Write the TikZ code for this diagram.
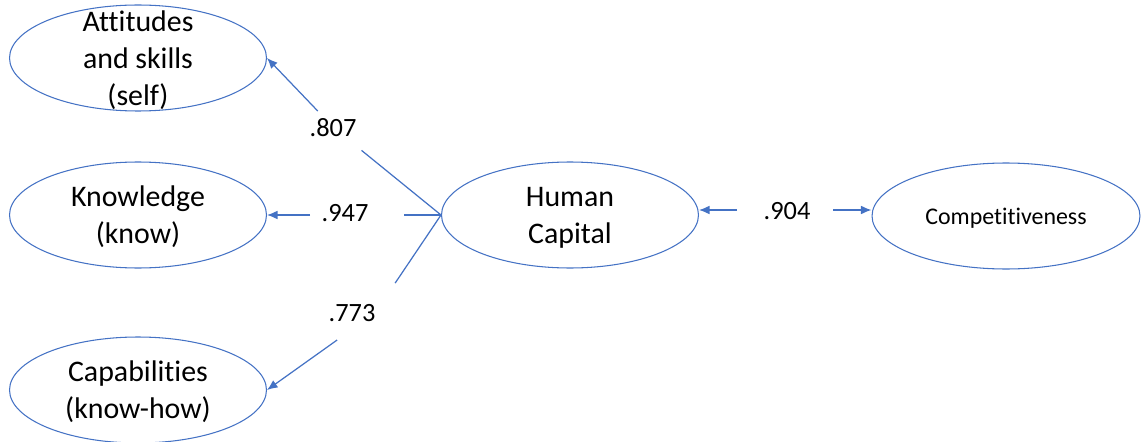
\documentclass[tikz,border=0pt]{standalone}
\usepackage{fontspec}
\setmainfont{Carlito}[Ligatures=CommonOff]
\usepackage{tikz}
\usetikzlibrary{arrows.meta,shapes.geometric}
\definecolor{ablue}{RGB}{68,114,196}

\begin{document}
\begin{tikzpicture}[x=0.02cm,y=-0.02cm,>={Latex[length=6pt,width=5pt]},
	latent/.style = {draw=ablue,ellipse,line width=0.6pt,inner sep=0pt,text depth=0pt,align=center,minimum width=5.14cm,minimum height=2.12cm,font=\fontsize{17}{21}\selectfont},
	coef/.style = {inner sep=0pt,font=\fontsize{15}{18}\selectfont},
	path/.style = {draw=ablue,line width=0.7pt}
	]
	\useasboundingbox (0,0) rectangle (1141,442);
	%VARIABILI
	\node[latent,inner ysep=-10pt] (@att) at (138,58) {Attitudes\\and skills\\(self)};
	\node[latent] (@know) at (138,215) {Knowledge\\(know)};
	\node[latent] (@cap) at (138,390) {Capabilities\\(know-how)};
	\node[latent] (@hc) at (570,215) {Human\\Capital};
	\node[latent,minimum width=5.36cm,font=\fontsize{13.6}{16}\selectfont] (@comp) at (1006,216) {Competitiveness};
	%Coefficienti
	\node[coef] (@807) at (333,128) {.807};
	\node[coef] (@947) at (345,213) {.947};
	\node[coef] (@773) at (352,313) {.773};
	\node[coef] (@904) at (787,211) {.904};
	%vertici dei percorsi
	\coordinate (@v807) at (334,128);
	\coordinate (@v947) at (345,215);
	\coordinate (@v773) at (375,313);
	\coordinate (@v904) at (787,210);
	%Percorsi
	\draw[path, shorten >=0.71cm] (@hc.west) -- (@v807);
	\draw[path,->, shorten <=0.47cm] (@v807) -- (@att.east);
	\draw[path, shorten >=1.18cm] (@hc.west) -- (@v947);
	\draw[path,->, shorten <=0.7cm] (@v947) -- (@know.east);
	\draw[path, shorten >=0.72cm] (@hc.west) -- (@v773);
	\draw[path,->, shorten <=0.93cm] (@v773) -- (@cap.east);
	\draw[path,->, shorten <=1cm] (@v904) -- (@v904 -| @hc.east);
	\draw[path,->, shorten <=0.92cm] (@v904) -- (@v904 -| @comp.west);
\end{tikzpicture}
\end{document}
